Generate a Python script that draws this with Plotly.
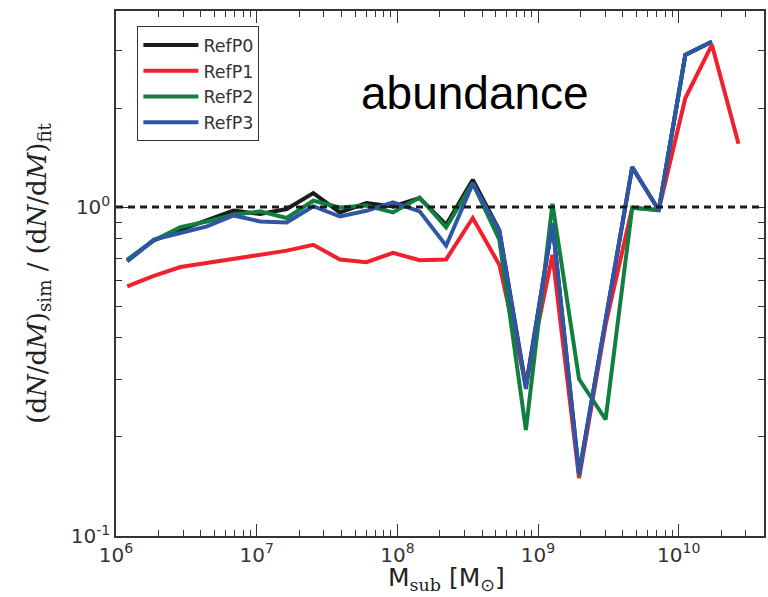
import plotly.graph_objects as go

# subhalo mass bins [M_sun]
mass = [1.202e6, 1.857e6, 2.870e6, 4.433e6, 6.849e6, 1.058e7, 1.635e7, 2.526e7,
        3.902e7, 6.029e7, 9.311e7, 1.439e8, 2.222e8, 3.434e8, 5.304e8, 8.195e8,
        1.266e9, 1.956e9, 3.021e9, 4.668e9, 7.211e9, 1.114e10, 1.721e10, 2.659e10]

refp0 = [0.688, 0.792, 0.853, 0.915, 0.976, 0.952, 0.986, 1.103, 0.963, 1.028, 1.004,
         1.065, 0.884, 1.211, 0.85, 0.285, 0.89, 0.155, 0.45, 1.32, 0.98, 2.9, 3.18]
refp1 = [0.574, 0.618, 0.657, 0.676, 0.695, 0.716, 0.737, 0.768, 0.693, 0.680, 0.726,
         0.689, 0.693, 0.926, 0.668, 0.288, 0.716, 0.150, 0.439, 0.995, 0.981, 2.145,
         3.114, 1.557]
refp2 = [0.692, 0.792, 0.869, 0.904, 0.948, 0.970, 0.926, 1.045, 0.997, 1.011, 0.963,
         1.069, 0.867, 1.183, 0.796, 0.210, 1.023, 0.300, 0.226, 0.995, 0.978, 2.9, 3.18]
refp3 = [0.683, 0.796, 0.834, 0.873, 0.943, 0.904, 0.898, 1.006, 0.936, 0.974, 1.033,
         0.970, 0.763, 1.177, 0.847, 0.280, 0.894, 0.1536, 0.454, 1.326, 0.976, 2.903,
         3.186]

series = [("RefP0", refp0, "#1c1c1c"), ("RefP1", refp1, "#f0212e"),
          ("RefP2", refp2, "#11803f"), ("RefP3", refp3, "#2f56a6")]

major_x = [1e6, 1e7, 1e8, 1e9, 1e10]
major_x_text = ["10<sup>6</sup>", "10<sup>7</sup>", "10<sup>8</sup>", "10<sup>9</sup>", "10<sup>10</sup>"]
major_y = [0.1, 1.0]
major_y_text = ["10<sup>-1</sup>", "10<sup>0</sup>"]

minor_x = [m * 10 ** e for e in range(6, 11) for m in range(2, 10)]
minor_y = [m * 10 ** e for e in (-1, 0) for m in range(2, 10)]

fig = go.Figure()
for name, vals, col in series:
    fig.add_trace(go.Scatter(x=mass[:len(vals)], y=vals, mode="lines", name=name,
                             line=dict(color=col, width=4)))

fig.add_shape(type="line", xref="paper", x0=0, x1=1, yref="y", y0=1.0, y1=1.0,
              line=dict(color="#1a1a1a", width=3, dash="7px,5px"), layer="above")

axis_common = dict(type="log", showgrid=False, zeroline=False, showline=True,
                   linecolor="#333333", linewidth=1.5, mirror="allticks",
                   ticks="inside", ticklen=12, tickwidth=1.3, tickcolor="#333333",
                   tickfont=dict(family="DejaVu Sans", size=20, color="#333333"))

fig.update_layout(
    width=768, height=597,
    margin=dict(l=116, r=2, t=11, b=61),
    paper_bgcolor="white", plot_bgcolor="white",
    showlegend=True,
    legend=dict(x=0.033, y=0.971, xanchor="left", yanchor="top",
                bordercolor="#333333", borderwidth=1, bgcolor="white",
                itemwidth=55,
                font=dict(family="DejaVu Sans", size=17.5, color="#333333")),
    xaxis=dict(range=[6, 10.606], tickmode="array", tickvals=major_x, ticktext=major_x_text,
               minor=dict(tickmode="array", tickvals=minor_x, ticks="inside", ticklen=6,
                          tickwidth=1.2, tickcolor="#333333"),
               **axis_common),
    yaxis=dict(range=[-1, 0.596], tickmode="array", tickvals=major_y, ticktext=major_y_text,
               minor=dict(tickmode="array", tickvals=minor_y, ticks="inside", ticklen=6,
                          tickwidth=1.2, tickcolor="#333333"),
               **axis_common),
)

fig.add_annotation(xref="paper", yref="paper", x=(38 - 116) / 650, y=0.5,
                   text="(d<i>N</i>/d<i>M</i>)<sub>sim</sub> / (d<i>N</i>/d<i>M</i>)<sub>fit</sub>",
                   textangle=-90, showarrow=False, xanchor="center", yanchor="middle",
                   font=dict(family="DejaVu Serif", size=26, color="#222222"))
fig.add_annotation(xref="paper", yref="paper", x=(448 - 116) / 650, y=-43 / 525,
                   text="M<sub><span style='font-family:DejaVu Serif'>sub</span></sub> [M<sub>⊙</sub>]",
                   showarrow=False, xanchor="center", yanchor="middle",
                   font=dict(family="DejaVu Sans", size=25, color="#222222"))
fig.add_annotation(xref="paper", yref="paper", x=(476 - 116) / 650, y=(536 - 93) / 525,
                   text="abundance", showarrow=False, xanchor="center", yanchor="middle",
                   font=dict(family="Liberation Sans", size=46, color="black"))

fig.write_html("out.html")
